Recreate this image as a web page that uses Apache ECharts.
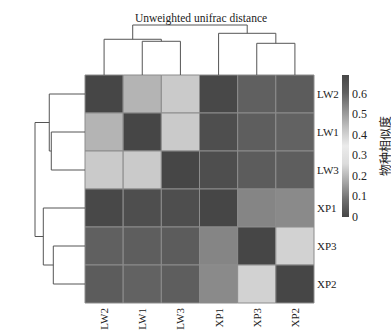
<!DOCTYPE html>
<html><head><meta charset="utf-8">
<script src="https://cdn.jsdelivr.net/npm/echarts@6/dist/echarts.min.js"></script>
<style>html,body{margin:0;padding:0;background:#fff}#c{width:391px;height:335px}</style>
</head><body><div id="c"></div>
<script>
// ---- data ----
var samples = ['LW2', 'LW1', 'LW3', 'XP1', 'XP3', 'XP2'];
var rowLW2 = [0, 0.456, 0.414, 0.687, 0.604, 0.618];
var rowLW1 = [0.456, 0, 0.414, 0.666, 0.611, 0.600];
var rowLW3 = [0.414, 0.414, 0, 0.666, 0.618, 0.611];
var rowXP1 = [0.687, 0.666, 0.666, 0, 0.540, 0.531];
var rowXP3 = [0.604, 0.611, 0.618, 0.540, 0, 0.397];
var rowXP2 = [0.618, 0.600, 0.611, 0.531, 0.397, 0];
// linkage rows: [childA, childB, height]; indices < 6 are leaves, >= 6 are earlier merges
var linkage = [[4, 5, 0.393], [1, 2, 0.418], [0, 7, 0.443], [3, 6, 0.517], [8, 9, 0.62]];
var colorMin = 0, colorMax = 0.69;
var colorTicks = [0, 0.1, 0.2, 0.3, 0.4, 0.5, 0.6];
var palette = ['#464646', '#707070', '#a8a8a8', '#dcdcdc', '#ebebeb', '#c2c2c2', '#929292', '#606060', '#474747'];
var titleText = 'Unweighted unifrac distance';
var legendName = '物种相似度';

// ---- build ----
function colorOf(v) {
  var t = (v - colorMin) / (colorMax - colorMin);
  return echarts.color.lerp(Math.max(0, Math.min(1, t)), palette);
}
var matrix = [rowLW2, rowLW1, rowLW3, rowXP1, rowXP3, rowXP2];
var heat = [];
for (var r = 0; r < matrix.length; r++)
  for (var c = 0; c < matrix[r].length; c++) heat.push([c, r, matrix[r][c]]);

var pos = [], hgt = [];
for (var i = 0; i < samples.length; i++) { pos.push(i); hgt.push(0); }
var links = [];
linkage.forEach(function (l) {
  var a = l[0], b = l[1], h = l[2];
  links.push([pos[a], hgt[a], pos[b], hgt[b], h]);
  pos.push((pos[a] + pos[b]) / 2); hgt.push(h);
});

function dendro(swap) {
  return function (params, api) {
    var pa = api.value(0), ha = api.value(1), pb = api.value(2), hb = api.value(3), h = api.value(4);
    function P(p, hh) { return swap ? api.coord([hh, p]) : api.coord([p, hh]); }
    return {
      type: 'polyline',
      shape: { points: [P(pa, ha), P(pa, h), P(pb, h), P(pb, hb)] },
      style: { stroke: '#555', lineWidth: 1, fill: null }
    };
  };
}

function cell(params, api) {
  var c0 = api.coord([api.value(0), api.value(1)]);
  var sz = api.size([1, 1]);
  return {
    type: 'rect',
    shape: { x: c0[0] - sz[0] / 2, y: c0[1] - sz[1] / 2, width: sz[0], height: sz[1] },
    style: { fill: colorOf(api.value(2)), stroke: '#8c8c8c', lineWidth: 1 }
  };
}

// colour bar: one rect spanning [colorMin, colorMax] on its own axis, filled with the palette gradient
var stops = palette.map(function (col, k) { return { offset: k / (palette.length - 1), color: col }; });
function colorBar(params, api) {
  var a = api.coord([0, api.value(0)]);
  var b = api.coord([1, api.value(1)]);
  return {
    type: 'rect',
    shape: { x: a[0], y: b[1], width: b[0] - a[0], height: a[1] - b[1] },
    style: { fill: new echarts.graphic.LinearGradient(0, 1, 0, 0, stops) }
  };
}

var serif = 'Liberation Serif, Times New Roman, serif';
var chart = echarts.init(document.getElementById('c'), null, { renderer: 'svg' });
chart.setOption({
  backgroundColor: '#fff',
  animation: false,
  title: { text: titleText, left: 196, top: 7, textAlign: 'center',
    textStyle: { fontFamily: serif, fontSize: 11.5, fontWeight: 'normal', color: '#222' } },
  grid: [
    { left: 85, top: 75, width: 229, height: 228 },
    { left: 85, top: 0, width: 229, height: 75 },
    { left: 0, top: 75, width: 85, height: 228 },
    { left: 342, top: 75, width: 9, height: 142 }
  ],
  xAxis: [
    { gridIndex: 0, type: 'category', data: samples, axisLine: { show: false }, axisTick: { show: false },
      axisLabel: { rotate: 90, margin: 5, fontFamily: serif, fontSize: 11, color: '#222' } },
    { gridIndex: 1, type: 'value', min: -0.5, max: 5.5, show: false },
    { gridIndex: 2, type: 'value', min: 0, max: 1.054, inverse: true, show: false },
    { gridIndex: 3, type: 'value', min: 0, max: 1, show: false }
  ],
  yAxis: [
    { gridIndex: 0, type: 'category', data: samples, inverse: true, position: 'right',
      axisLine: { show: false }, axisTick: { show: false },
      axisLabel: { margin: 3, fontFamily: serif, fontSize: 11, color: '#222' } },
    { gridIndex: 1, type: 'value', min: 0, max: 0.93, show: false },
    { gridIndex: 2, type: 'value', min: -0.5, max: 5.5, inverse: true, show: false },
    { gridIndex: 3, type: 'value', min: colorMin, max: colorMax, interval: 0.1, position: 'right',
      splitLine: { show: false }, axisLine: { show: false }, axisTick: { show: false },
      axisLabel: { margin: 3, fontFamily: serif, fontSize: 12, color: '#222', customValues: colorTicks },
      name: legendName, nameLocation: 'middle', nameRotate: 90, nameGap: 29,
      nameTextStyle: { fontFamily: 'Noto Sans CJK SC', fontSize: 12, color: '#222' } }
  ],
  series: [
    { type: 'custom', xAxisIndex: 0, yAxisIndex: 0, data: heat, renderItem: cell, silent: true },
    { type: 'custom', xAxisIndex: 1, yAxisIndex: 1, data: links, renderItem: dendro(false), silent: true },
    { type: 'custom', xAxisIndex: 2, yAxisIndex: 2, data: links, renderItem: dendro(true), silent: true },
    { type: 'custom', xAxisIndex: 3, yAxisIndex: 3, data: [[colorMin, colorMax]], renderItem: colorBar, silent: true, z: 10 }
  ]
});
</script></body></html>
